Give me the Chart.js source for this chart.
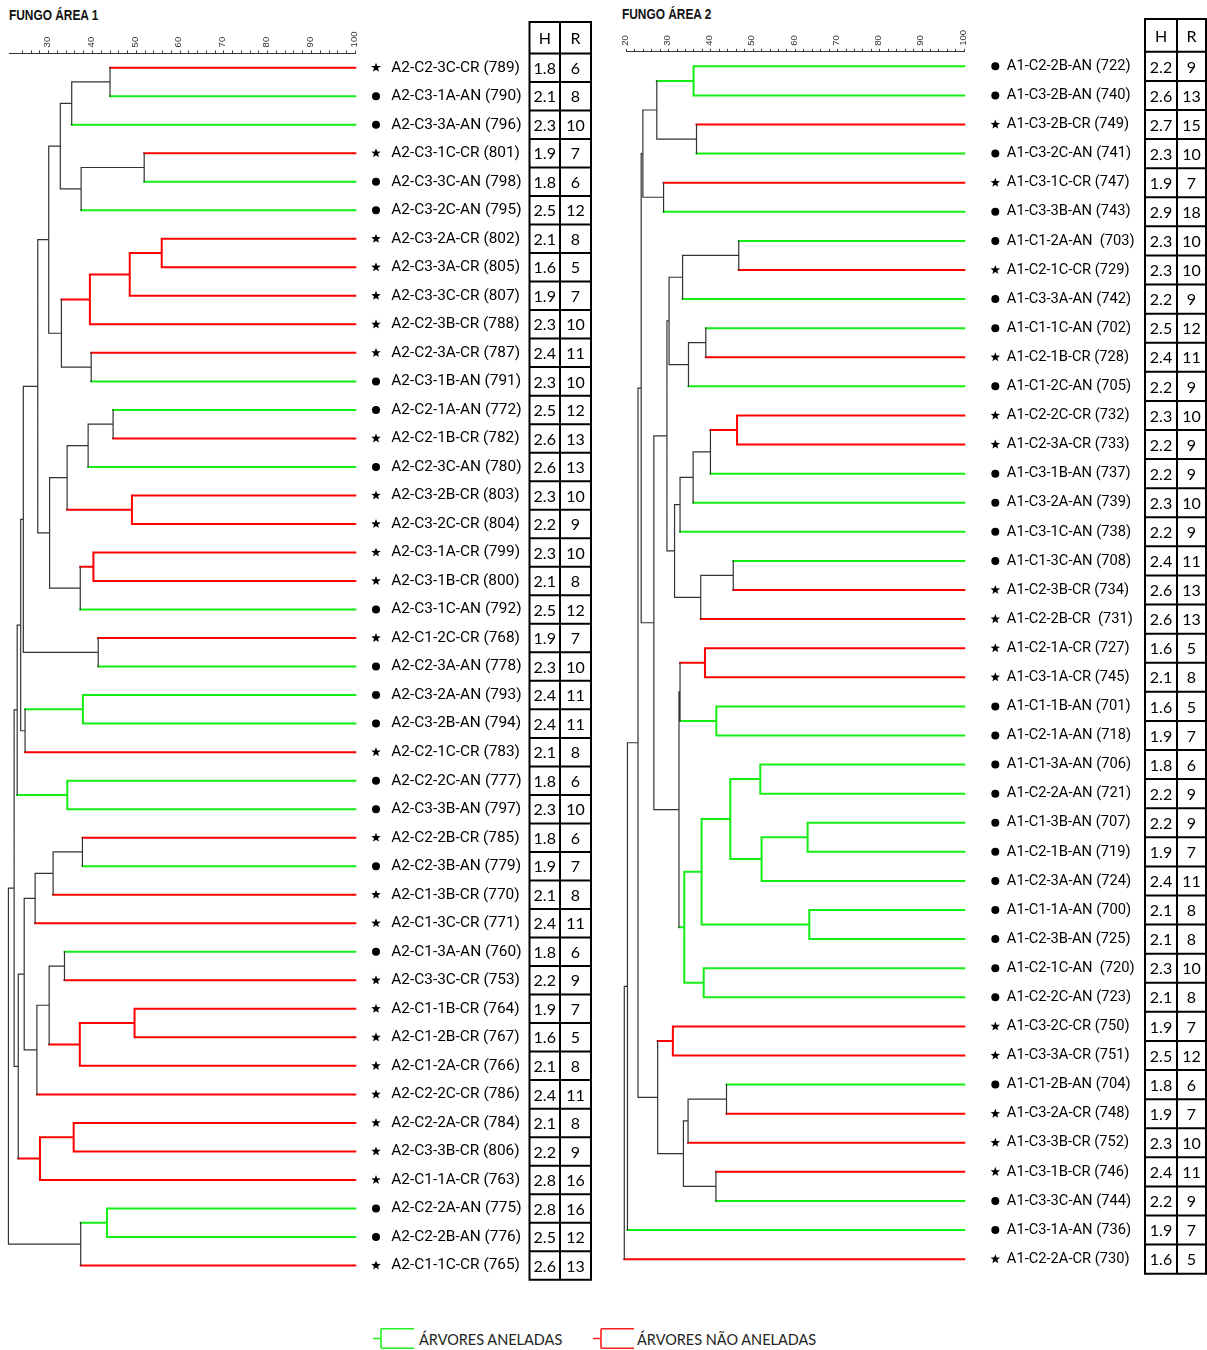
<!DOCTYPE html>
<html lang="pt">
<head>
<meta charset="UTF-8">
<title>Fungo Área 1 / Área 2 - dendrogramas</title>
<script src="https://cdn.jsdelivr.net/npm/chart.js"></script>
<style>
  body { margin: 0; width: 1207px; height: 1350px; background: #fff; position: relative; overflow: hidden; }
  canvas { position: absolute; top: 0; }
  .title { position: absolute; font: bold 14.5px/14.5px "Liberation Sans", Arial, sans-serif; color: #111;
           transform-origin: 0 0; transform: scaleX(0.82); white-space: nowrap; }
  .leg { position: absolute; top: 1328px; height: 22px; }
  .leg svg { position: absolute; left: 0; top: 0; }
  .leg span { position: absolute; top: 1.5px; font: 14.5px/20px Lato, sans-serif; color: #222; white-space: nowrap; }
</style>
</head>
<body>
<div class="title" style="left:9px; top:8px">FUNGO ÁREA 1</div>
<div class="title" style="left:622px; top:7px">FUNGO ÁREA 2</div>
<canvas id="area1" width="600" height="1325" style="left:0"></canvas>
<canvas id="area2" width="595" height="1325" style="left:612px"></canvas>

<div class="leg" style="left:373px">
  <svg width="44" height="22"><path d="M0 10.5H8M8 0.8V20.2M8 0.8H41M8 20.2H41" stroke="#22ee22" stroke-width="1.6" fill="none"/></svg>
  <span style="left:46px">ÁRVORES ANELADAS</span>
</div>
<div class="leg" style="left:593px">
  <svg width="44" height="22"><path d="M0 10.5H8M8 0.8V20.2M8 0.8H41M8 20.2H41" stroke="#ff2020" stroke-width="1.6" fill="none"/></svg>
  <span style="left:44px">ÁRVORES NÃO ANELADAS</span>
</div>

<script>
// ---- Fungo Área 1 ----
const area1Labels = [
  'A2-C2-3C-CR (789)', 'A2-C3-1A-AN (790)', 'A2-C3-3A-AN (796)', 'A2-C3-1C-CR (801)', 'A2-C3-3C-AN (798)',
  'A2-C3-2C-AN (795)', 'A2-C3-2A-CR (802)', 'A2-C3-3A-CR (805)', 'A2-C3-3C-CR (807)', 'A2-C2-3B-CR (788)',
  'A2-C2-3A-CR (787)', 'A2-C3-1B-AN (791)', 'A2-C2-1A-AN (772)', 'A2-C2-1B-CR (782)', 'A2-C2-3C-AN (780)',
  'A2-C3-2B-CR (803)', 'A2-C3-2C-CR (804)', 'A2-C3-1A-CR (799)', 'A2-C3-1B-CR (800)', 'A2-C3-1C-AN (792)',
  'A2-C1-2C-CR (768)', 'A2-C2-3A-AN (778)', 'A2-C3-2A-AN (793)', 'A2-C3-2B-AN (794)', 'A2-C2-1C-CR (783)',
  'A2-C2-2C-AN (777)', 'A2-C3-3B-AN (797)', 'A2-C2-2B-CR (785)', 'A2-C2-3B-AN (779)', 'A2-C1-3B-CR (770)',
  'A2-C1-3C-CR (771)', 'A2-C1-3A-AN (760)', 'A2-C3-3C-CR (753)', 'A2-C1-1B-CR (764)', 'A2-C1-2B-CR (767)',
  'A2-C1-2A-CR (766)', 'A2-C2-2C-CR (786)', 'A2-C2-2A-CR (784)', 'A2-C3-3B-CR (806)', 'A2-C1-1A-CR (763)',
  'A2-C2-2A-AN (775)', 'A2-C2-2B-AN (776)', 'A2-C1-1C-CR (765)'
];
const area1H = [1.8, 2.1, 2.3, 1.9, 1.8, 2.5, 2.1, 1.6, 1.9, 2.3, 2.4, 2.3, 2.5, 2.6, 2.6, 2.3, 2.2, 2.3, 2.1, 2.5,
                1.9, 2.3, 2.4, 2.4, 2.1, 1.8, 2.3, 1.8, 1.9, 2.1, 2.4, 1.8, 2.2, 1.9, 1.6, 2.1, 2.4, 2.1, 2.2, 2.8,
                2.8, 2.5, 2.6];
const area1R = [6, 8, 10, 7, 6, 12, 8, 5, 7, 10, 11, 10, 12, 13, 13, 10, 9, 10, 8, 12,
                7, 10, 11, 11, 8, 6, 10, 6, 7, 8, 11, 6, 9, 7, 5, 8, 11, 8, 9, 16,
                16, 12, 13];
// merges: [child, child, similarity %]; leaves are 0..n-1, merge k becomes node n+k
const area1Merges = [
  [0, 1, 44.0], [43, 2, 35.25], [3, 4, 51.8], [45, 5, 37.4], [44, 46, 32.65],
  [6, 7, 55.8], [48, 8, 48.5], [49, 9, 39.4], [10, 11, 39.7], [50, 51, 32.9],
  [47, 52, 30.0], [12, 13, 44.7], [54, 14, 39.0], [15, 16, 49.0], [55, 56, 34.2],
  [17, 18, 40.2], [58, 19, 37.2], [57, 59, 30.2], [53, 60, 27.5], [20, 21, 41.3],
  [61, 62, 24.2], [22, 23, 37.8], [64, 24, 24.6], [63, 65, 23.6], [25, 26, 34.25],
  [66, 67, 22.8], [27, 28, 37.7], [69, 29, 31.0], [70, 30, 26.9], [31, 32, 33.6],
  [33, 34, 49.6], [73, 35, 37.1], [72, 74, 30.1], [75, 36, 27.3], [71, 76, 24.4],
  [37, 38, 35.7], [78, 39, 28.0], [77, 79, 23.05], [68, 80, 22.1], [40, 41, 43.3],
  [82, 42, 37.3], [81, 83, 20.8]
];

// ---- Fungo Área 2 ----
const area2Labels = [
  'A1-C2-2B-AN (722)', 'A1-C3-2B-AN (740)', 'A1-C3-2B-CR (749)', 'A1-C3-2C-AN (741)', 'A1-C3-1C-CR (747)',
  'A1-C3-3B-AN (743)', 'A1-C1-2A-AN  (703)', 'A1-C2-1C-CR (729)', 'A1-C3-3A-AN (742)', 'A1-C1-1C-AN (702)',
  'A1-C2-1B-CR (728)', 'A1-C1-2C-AN (705)', 'A1-C2-2C-CR (732)', 'A1-C2-3A-CR (733)', 'A1-C3-1B-AN (737)',
  'A1-C3-2A-AN (739)', 'A1-C3-1C-AN (738)', 'A1-C1-3C-AN (708)', 'A1-C2-3B-CR (734)', 'A1-C2-2B-CR  (731)',
  'A1-C2-1A-CR (727)', 'A1-C3-1A-CR (745)', 'A1-C1-1B-AN (701)', 'A1-C2-1A-AN (718)', 'A1-C1-3A-AN (706)',
  'A1-C2-2A-AN (721)', 'A1-C1-3B-AN (707)', 'A1-C2-1B-AN (719)', 'A1-C2-3A-AN (724)', 'A1-C1-1A-AN (700)',
  'A1-C2-3B-AN (725)', 'A1-C2-1C-AN  (720)', 'A1-C2-2C-AN (723)', 'A1-C3-2C-CR (750)', 'A1-C3-3A-CR (751)',
  'A1-C1-2B-AN (704)', 'A1-C3-2A-CR (748)', 'A1-C3-3B-CR (752)', 'A1-C3-1B-CR (746)', 'A1-C3-3C-AN (744)',
  'A1-C3-1A-AN (736)', 'A1-C2-2A-CR (730)'
];
const area2H = [2.2, 2.6, 2.7, 2.3, 1.9, 2.9, 2.3, 2.3, 2.2, 2.5, 2.4, 2.2, 2.3, 2.2, 2.2, 2.3, 2.2, 2.4, 2.6, 2.6,
                1.6, 2.1, 1.6, 1.9, 1.8, 2.2, 2.2, 1.9, 2.4, 2.1, 2.1, 2.3, 2.1, 1.9, 2.5, 1.8, 1.9, 2.3, 2.4, 2.2,
                1.9, 1.6];
const area2R = [9, 13, 15, 10, 7, 18, 10, 10, 9, 12, 11, 9, 10, 9, 9, 10, 9, 11, 13, 13,
                5, 8, 5, 7, 6, 9, 9, 7, 11, 8, 8, 10, 8, 7, 12, 6, 7, 10, 11, 9,
                7, 5];
const area2Merges = [
  [0, 1, 35.9], [2, 3, 36.6], [42, 43, 27.2], [4, 5, 28.8], [44, 45, 23.9],
  [6, 7, 46.6], [47, 8, 33.3], [9, 10, 38.8], [49, 11, 34.7], [48, 50, 30.1],
  [12, 13, 46.2], [52, 14, 39.9], [53, 15, 35.8], [54, 16, 32.7], [17, 18, 45.3],
  [56, 19, 37.6], [55, 57, 31.4], [51, 58, 29.6], [20, 21, 38.6], [22, 23, 41.3],
  [60, 61, 32.7], [24, 25, 51.7], [26, 27, 62.9], [64, 28, 52.0], [63, 65, 44.6],
  [29, 30, 63.3], [66, 67, 37.8], [31, 32, 38.3], [68, 69, 33.7], [62, 70, 32.45],
  [59, 71, 26.5], [46, 72, 23.5], [33, 34, 31.0], [35, 36, 43.7], [75, 37, 34.6],
  [38, 39, 41.2], [76, 77, 33.5], [74, 78, 27.4], [73, 79, 22.75], [80, 40, 20.25],
  [81, 41, 19.5]
];

const COLORS = { red: '#ff0000', green: '#14ee14', black: '#333333' };

// turn the merge list into line segments, split by colour (null point = gap)
function buildSegments(labels, merges) {
  const pos = labels.map((_, i) => i);
  const level = labels.map(() => 100);
  const kind = labels.map(l => l.includes('-CR') ? 'red' : 'green');
  const segs = { black: [], red: [], green: [] };
  merges.forEach(([a, b, s]) => {
    const k = kind[a] === kind[b] ? kind[a] : 'black';
    segs[k].push({ x: s, y: pos[a] }, { x: s, y: pos[b] }, { x: s, y: null });
    [a, b].forEach(c => {
      segs[kind[c]].push({ x: s, y: pos[c] }, { x: level[c], y: pos[c] }, { x: s, y: null });
    });
    pos.push((pos[a] + pos[b]) / 2);
    level.push(s);
    kind.push(k);
  });
  return segs;
}

function drawStar(ctx, cx, cy, r1, r2) {
  ctx.beginPath();
  for (let i = 0; i < 10; i++) {
    const r = i % 2 ? r2 : r1;
    const a = -Math.PI / 2 + i * Math.PI / 5;
    ctx.lineTo(cx + r * Math.cos(a), cy + r * Math.sin(a));
  }
  ctx.closePath();
  ctx.fill();
}

// markers before the labels + the H / R table
const leafDecor = {
  id: 'leafDecor',
  afterDraw(chart, args, o) {
    const ctx = chart.ctx;
    const ys = chart.scales.y;
    const n = o.labels.length;
    ctx.save();
    ctx.fillStyle = '#000';
    o.labels.forEach((lab, i) => {
      const y = ys.getPixelForValue(i);
      if (lab.includes('-CR')) drawStar(ctx, o.markerX, y, 5, 2.1);
      else { ctx.beginPath(); ctx.arc(o.markerX, y, 4, 0, Math.PI * 2); ctx.fill(); }
    });

    const [c0, c1, c2] = o.cols;
    const top = o.headTop;
    const first = ys.getPixelForValue(-0.5);
    const bottom = ys.getPixelForValue(n - 0.5);
    ctx.strokeStyle = '#000';
    ctx.lineWidth = 2;
    ctx.beginPath();
    [c0, c1, c2].forEach(x => { ctx.moveTo(x, top - 1); ctx.lineTo(x, bottom + 1); });
    ctx.moveTo(c0 - 1, top); ctx.lineTo(c2 + 1, top);
    for (let i = 0; i <= n; i++) {
      const y = ys.getPixelForValue(i - 0.5);
      ctx.moveTo(c0 - 1, y); ctx.lineTo(c2 + 1, y);
    }
    ctx.stroke();

    ctx.font = '16px Lato';
    ctx.textAlign = 'center';
    ctx.textBaseline = 'middle';
    ctx.fillText('H', (c0 + c1) / 2, (top + first) / 2 + 1);
    ctx.fillText('R', (c1 + c2) / 2, (top + first) / 2 + 1);
    for (let i = 0; i < n; i++) {
      const y = ys.getPixelForValue(i) + 1;
      ctx.fillText(o.H[i].toFixed(1), (c0 + c1) / 2, y);
      ctx.fillText(String(o.R[i]), (c1 + c2) / 2, y);
    }
    ctx.restore();
  }
};

function makeDendrogram(id, cfg) {
  const segs = buildSegments(cfg.labels, cfg.merges);
  const n = cfg.labels.length;
  const line = (key, w) => ({
    data: segs[key], showLine: true, spanGaps: false, clip: false,
    borderColor: COLORS[key], borderWidth: w, borderCapStyle: 'square',
    pointRadius: 0, pointHoverRadius: 0, tension: 0
  });
  return new Chart(document.getElementById(id), {
    type: 'scatter',
    data: { datasets: [line('black', 1.2), line('red', 2), line('green', 2)] },
    plugins: [leafDecor],
    options: {
      responsive: false,
      animation: false,
      events: [],
      layout: { padding: { left: cfg.padLeft, right: 0, top: 0, bottom: 0 } },
      plugins: {
        legend: { display: false },
        tooltip: { enabled: false },
        leafDecor: { labels: cfg.labels, H: cfg.H, R: cfg.R, cols: cfg.cols, headTop: cfg.headTop, markerX: cfg.markerX }
      },
      scales: {
        x: {
          type: 'linear', position: 'top', min: cfg.xMin, max: 100,
          afterBuildTicks: s => { s.ticks = s.ticks.filter(t => t.value % 2 === 0); },
          afterFit: s => { s.height = cfg.axisHeight; },
          ticks: {
            stepSize: 2, autoSkip: false, minRotation: 90, maxRotation: 90, padding: 3, labelOffset: 10,
            color: '#333', font: { family: 'Liberation Sans', size: 9.5 },
            callback: v => (v % 10 === 0 && v >= cfg.firstLabel) ? String(v) : ''
          },
          grid: { drawOnChartArea: false, drawTicks: true, tickLength: 3, color: '#444' },
          border: { color: '#333', width: 1 }
        },
        y: {
          type: 'linear', position: 'right', reverse: true, min: -0.5, max: n - 0.5,
          afterBuildTicks: s => { s.ticks = cfg.labels.map((_, i) => ({ value: i })); },
          afterFit: s => { s.width = cfg.labelWidth; },
          ticks: {
            autoSkip: false, padding: cfg.labelPad, color: '#000',
            font: { family: 'Roboto', size: cfg.labelSize },
            callback: v => cfg.labels[v]
          },
          grid: { display: false, drawTicks: false },
          border: { display: false }
        }
      }
    }
  });
}

makeDendrogram('area1', {
  labels: area1Labels, merges: area1Merges, H: area1H, R: area1R,
  xMin: 21, firstLabel: 30, padLeft: 9.3, axisHeight: 53.4,
  labelWidth: 244.7, labelPad: 36, labelSize: 15.4,
  cols: [529.5, 560, 591], headTop: 22, markerX: 376
});

makeDendrogram('area2', {
  labels: area2Labels, merges: area2Merges, H: area2H, R: area2R,
  xMin: 20, firstLabel: 20, padLeft: 12.3, axisHeight: 51.8,
  labelWidth: 242.7, labelPad: 42.5, labelSize: 14.7,
  cols: [533, 565, 594], headTop: 19, markerX: 383.3
});
</script>
</body>
</html>
